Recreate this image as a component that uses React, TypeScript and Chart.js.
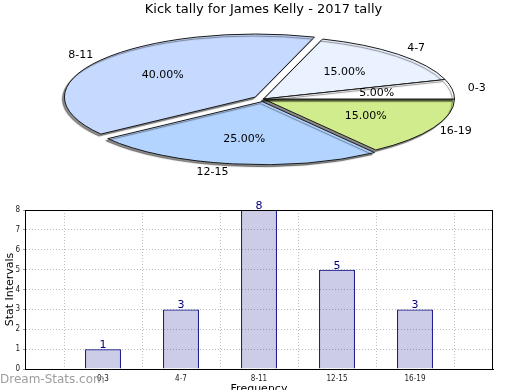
import React, { useEffect, useRef } from 'react';
import { Chart, registerables } from 'chart.js';

Chart.register(...registerables);

// ---- data ----
const TITLE = 'Kick tally for James Kelly - 2017 tally';
const CATEGORIES = ['0-3', '4-7', '8-11', '12-15', '16-19'];
const COUNTS = [1, 3, 8, 5, 3];
const Y_TICKS = [0, 1, 2, 3, 4, 5, 6, 7, 8];
const Y_TITLE = 'Stat Intervals';
const X_TITLE = 'Frequency';
const WATERMARK = 'Dream-Stats.com';

// ---- style ----
const PIE_COLORS = ['#ffffff', '#ebf2ff', '#c6d9fe', '#b3d4ff', '#d1ec8c'];
const PIE_EXPLODE = [0, 0, 10, 8, 0];
const TILT = 0.33;
const FONT = "'DejaVu Sans', sans-serif";
const CFONT = "'DejaVu Sans Condensed', 'DejaVu Sans', sans-serif";

// pie is drawn clockwise from 3 o'clock, reference runs counter-clockwise
const PIE_ORDER = CATEGORIES.map((_, i) => CATEGORIES.length - 1 - i);

const tiltPlugin = {
  id: 'tilt',
  beforeDatasetsDraw(chart: any) {
    const meta = chart.getDatasetMeta(0);
    const arcs = meta.data;
    if (!arcs.length) return;
    const ctx = chart.ctx;
    const cy = arcs[0].y;
    arcs.forEach((arc: any, i: number) => {
      if (!arc.$exploded) {
        const base = arc.draw;
        const e = PIE_EXPLODE[PIE_ORDER[i]];
        arc.draw = function (c: any, area: any) {
          const half = (this.startAngle + this.endAngle) / 2;
          c.save();
          c.translate(Math.cos(half) * e, Math.sin(half) * e);
          base.call(this, c, area);
          c.restore();
        };
        arc.$exploded = true;
      }
    });
    ctx.save();
    ctx.translate(0, cy * (1 - TILT));
    ctx.scale(1, TILT);
    ctx.shadowColor = 'rgba(0,0,0,0.45)';
    ctx.shadowOffsetX = -2;
    ctx.shadowOffsetY = 2;
    ctx.shadowBlur = 1;
    const dpr = chart.currentDevicePixelRatio || 1;
    const orig = CanvasRenderingContext2D.prototype.stroke;
    ctx.stroke = function (...a: any[]) {
      this.save();
      this.setTransform(dpr, 0, 0, dpr, 0, 0);
      (orig as any).apply(this, a);
      this.restore();
    };
  },
  afterDatasetsDraw(chart: any) {
    const ctx = chart.ctx;
    delete ctx.stroke;
    ctx.restore();
    const meta = chart.getDatasetMeta(0);
    const ds = chart.data.datasets[0];
    const total = ds.data.reduce((a: number, b: number) => a + b, 0);
    ctx.save();
    ctx.font = `11px ${FONT}`;
    ctx.fillStyle = '#000';
    ctx.textBaseline = 'middle';
    meta.data.forEach((arc: any, i: number) => {
      const mid = (arc.startAngle + arc.endAngle) / 2;
      const e = PIE_EXPLODE[PIE_ORDER[i]];
      const r = arc.outerRadius;
      const pt = (f: number) => [
        arc.x + Math.cos(mid) * (e + r * f),
        arc.y + Math.sin(mid) * (e + r * f) * TILT,
      ];
      const pct = ((ds.data[i] / total) * 100).toFixed(2) + '%';
      const [px, py] = pt(0.6);
      ctx.textAlign = 'center';
      ctx.fillText(pct, px, py);
      const [lx, ly] = pt(1.13);
      ctx.textAlign = Math.sin(mid) > 0.8 ? 'right' : 'center';
      ctx.fillText(chart.data.labels[i], lx, ly);
    });
    ctx.restore();
  },
};

const barDecor = {
  id: 'barDecor',
  afterDatasetsDraw(chart: any) {
    const ctx = chart.ctx;
    const meta = chart.getDatasetMeta(0);
    const data = chart.data.datasets[0].data;
    ctx.save();
    ctx.font = `11px ${FONT}`;
    ctx.fillStyle = '#000080';
    ctx.textAlign = 'center';
    ctx.textBaseline = 'alphabetic';
    meta.data.forEach((bar: any, i: number) => {
      const v = data[i];
      if (v == null) return;
      ctx.fillText(String(v), bar.x, bar.y - 1);
    });
    ctx.restore();
  },
  afterDraw(chart: any) {
    const ctx = chart.ctx;
    const { left, top, right, bottom } = chart.chartArea;
    ctx.save();
    ctx.strokeStyle = '#000';
    ctx.lineWidth = 1;
    ctx.strokeRect(Math.round(left) + 0.5, Math.round(top) + 0.5, Math.round(right - left) - 1, Math.round(bottom - top));
    ctx.font = `12px ${FONT}`;
    ctx.fillStyle = 'rgba(140,140,140,0.85)';
    ctx.textAlign = 'left';
    ctx.textBaseline = 'middle';
    ctx.fillText(WATERMARK, 0, 180);
    ctx.restore();
  },
};

function PieChart() {
  const ref = useRef<HTMLCanvasElement>(null);
  useEffect(() => {
    if (!ref.current) return;
    const chart = new Chart(ref.current, {
      type: 'pie',
      data: {
        labels: PIE_ORDER.map((i) => CATEGORIES[i]),
        datasets: [
          {
            data: PIE_ORDER.map((i) => COUNTS[i]),
            backgroundColor: PIE_ORDER.map((i) => PIE_COLORS[i]),
            borderColor: '#1a1a1a',
            borderWidth: 1,
            clip: false,
          } as any,
        ],
      },
      options: {
        animation: false,
        responsive: false,
        events: [],
        rotation: 90,
        radius: 191,
        layout: { padding: { left: 7, right: 0, top: 0, bottom: 23.6 } },
        plugins: {
          legend: { display: false },
          tooltip: { enabled: false },
          title: {
            display: true,
            text: TITLE,
            color: '#000',
            font: { family: FONT, size: 13, weight: 'normal' },
            padding: { top: 2, bottom: 4 },
          },
        },
      } as any,
      plugins: [tiltPlugin],
    });
    return () => chart.destroy();
  }, []);
  return <canvas ref={ref} width={520} height={200} style={{ position: 'absolute', left: 0, top: 0 }} />;
}

function BarChart() {
  const ref = useRef<HTMLCanvasElement>(null);
  useEffect(() => {
    if (!ref.current) return;
    const chart = new Chart(ref.current, {
      type: 'bar',
      data: {
        labels: ['', ...CATEGORIES, ''],
        datasets: [
          {
            data: [null, ...COUNTS, null],
            backgroundColor: 'rgba(0,0,128,0.2)',
            borderColor: '#000080',
            borderWidth: 1,
            barPercentage: 0.46,
            categoryPercentage: 1,
          } as any,
        ],
      },
      options: {
        animation: false,
        responsive: false,
        events: [],
        layout: { padding: { left: 0, right: 27, top: 10, bottom: 0 } },
        plugins: { legend: { display: false }, tooltip: { enabled: false } },
        scales: {
          x: {
            offset: false,
            grid: { color: '#bdbdbd', drawTicks: false, lineWidth: 1 },
            border: { display: true, color: '#000', dash: [1, 2] },
            ticks: { font: { family: CFONT, size: 8 }, color: '#222', padding: 5, autoSkip: false, maxRotation: 0 },
            title: {
              display: true,
              text: X_TITLE,
              color: '#000',
              font: { family: FONT, size: 11 },
              padding: { top: 0, bottom: 4 },
            },
            afterFit(s: any) {
              s.height = 31;
            },
          },
          y: {
            min: Y_TICKS[0],
            max: Y_TICKS[Y_TICKS.length - 1],
            ticks: { stepSize: 1, font: { family: CFONT, size: 8 }, color: '#222', padding: 3 },
            grid: { color: '#bdbdbd', tickLength: 2, tickColor: '#999' },
            border: { display: true, color: '#000', dash: [1, 2] },
            title: {
              display: true,
              text: Y_TITLE,
              color: '#000',
              font: { family: FONT, size: 11 },
              padding: { top: 4, bottom: 0 },
            },
            afterFit(s: any) {
              s.width = 25;
            },
          },
        },
      } as any,
      plugins: [barDecor],
    });
    return () => chart.destroy();
  }, []);
  return <canvas ref={ref} width={520} height={200} style={{ position: 'absolute', left: 0, top: 200 }} />;
}

export default function App() {
  return (
    <div style={{ position: 'fixed', left: 0, top: 0, width: 520, height: 390, overflow: 'hidden', background: '#fff' }}>
      <PieChart />
      <BarChart />
    </div>
  );
}
